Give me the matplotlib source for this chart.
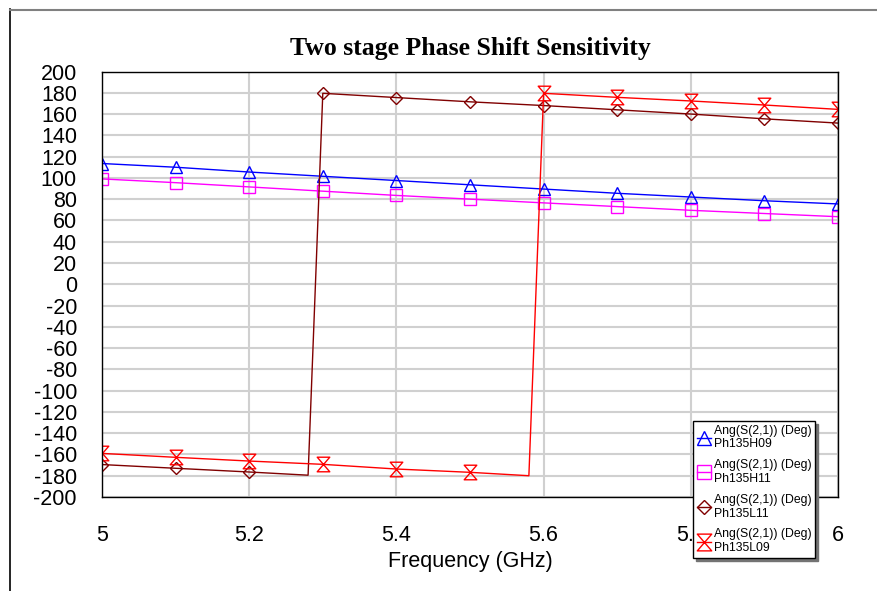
import numpy as np
import matplotlib
matplotlib.use("Agg")
import matplotlib.pyplot as plt
from matplotlib.lines import Line2D
from matplotlib.path import Path

plt.rcParams['font.family'] = ['Liberation Sans', 'DejaVu Sans']
plt.rcParams['axes.unicode_minus'] = False

# swept S21 phase for the four phase-shifter states
freq_h = [5.0, 5.1, 5.2, 5.3, 5.4, 5.5, 5.6, 5.7, 5.8, 5.9, 6.0]
ph_h09 = [113.5, 110, 105.5, 101.5, 97.5, 93.5, 89.5, 85.5, 82, 78.5, 75.5]
ph_h11 = [99, 95.5, 91.5, 87.5, 83.5, 80, 76.5, 73, 69.5, 66.5, 63.5]

freq_l11 = [5.0, 5.1, 5.2, 5.28, 5.3, 5.4, 5.5, 5.6, 5.7, 5.8, 5.9, 6.0]
ph_l11 = [-169.5, -173, -176.5, -179.5, 179.5, 175.5, 171.5, 168, 164, 160, 155.5, 151.5]

freq_l09 = [5.0, 5.1, 5.2, 5.3, 5.4, 5.5, 5.58, 5.6, 5.7, 5.8, 5.9, 6.0]
ph_l09 = [-159, -162.7, -166.2, -169.3, -173.7, -176.8, -180, 179.5, 175.7, 172.3, 168.5, 164.4]

trace_name = 'Ang(S(2,1)) (Deg)'
states = ['Ph135H09', 'Ph135H11', 'Ph135L11', 'Ph135L09']

y_ticks = list(range(-200, 201, 20))
x_ticks = [5, 5.2, 5.4, 5.6, 5.8, 6]
x_tick_labels = ['5', '5.2', '5.4', '5.6', '5.8', '6']

# hourglass marker (two triangles tip to tip)
hourglass = Path([(-0.43, 0.5), (0.43, 0.5), (-0.43, -0.5), (0.43, -0.5), (-0.43, 0.5)],
                 [Path.MOVETO, Path.LINETO, Path.LINETO, Path.LINETO, Path.CLOSEPOLY])


def marker_points(freq):
    # markers only on the 0.1 GHz grid
    return [i for i, f in enumerate(freq) if abs(f * 10 - round(f * 10)) < 1e-6]


fig = plt.figure(figsize=(8.77, 5.91), dpi=100)
ax = fig.add_axes([102 / 877, 1 - 497 / 591, 736 / 877, 425.5 / 591])

series = [
    (freq_h, ph_h09, '#0000ff', '^', 9),
    (freq_h, ph_h11, '#ff00ff', 's', 9),
    (freq_l11, ph_l11, '#800000', 'D', 6.5),
    (freq_l09, ph_l09, '#ff0000', hourglass, 10.5),
]
handles = []
for (f, p, c, m, ms), st in zip(series, states):
    ln, = ax.plot(f, p, color=c, lw=1.0, marker=m, markersize=ms,
                  markerfacecolor='none', markeredgecolor=c, markeredgewidth=1.0,
                  markevery=marker_points(f), label=trace_name + '\n' + st)
    handles.append(ln)

ax.set_xlim(5, 6)
ax.set_ylim(-200, 200)
ax.set_yticks(y_ticks)
ax.set_xticks(x_ticks)
ax.set_xticklabels(x_tick_labels)
ax.tick_params(axis='both', length=0, labelsize=15.5)
ax.tick_params(axis='y', pad=18)
ax.tick_params(axis='x', pad=20)
ax.grid(True, color='#d0d0d0', lw=1.5)
ax.set_axisbelow(True)
for s in ax.spines.values():
    s.set_color('black')
    s.set_linewidth(1.0)

ax.set_xlabel('Frequency (GHz)', fontsize=15.5, labelpad=4)
ax.set_title('Two stage Phase Shift Sensitivity', fontsize=18.5, fontweight='bold',
             family='Liberation Serif', pad=12)

leg = fig.legend(handles=handles, loc='upper left',
                 bbox_to_anchor=(693 / 877, 1 - 421 / 591),
                 fontsize=8.8, frameon=True, fancybox=False,
                 shadow={'color': '0.45', 'alpha': 1},
                 handlelength=1.2, handletextpad=0.2, labelspacing=0.72,
                 borderpad=0.3, borderaxespad=0, numpoints=1, markerscale=1.15)
leg.get_frame().set_edgecolor('black')
leg.get_frame().set_linewidth(1.0)

# outer frame of the plot window
fig.add_artist(Line2D([9.5 / 877, 9.5 / 877], [1 - 9 / 591, 0], transform=fig.transFigure,
                      color='black', lw=1.2))
fig.add_artist(Line2D([9.5 / 877, 1], [1 - 9.5 / 591, 1 - 9.5 / 591], transform=fig.transFigure,
                      color='#808080', lw=1.5))

fig.savefig('out.png', dpi=100)
